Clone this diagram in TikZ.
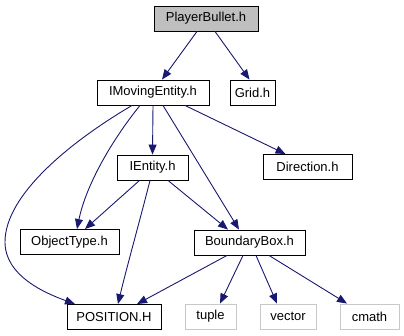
\documentclass[tikz,border=0pt]{standalone}
\usepackage{fontspec}
\setmainfont{Liberation Sans}
\usetikzlibrary{arrows.meta}
\definecolor{edgeblue}{HTML}{191970}
\definecolor{boxgray}{HTML}{BFBFBF}
\definecolor{framegray}{HTML}{C8C8C8}

\begin{document}
\begin{tikzpicture}[x=1pt, y=-1pt, >={Triangle[length=10pt,width=8pt]},
  hfile/.style={draw=black, line width=0.9pt, fill=white, minimum height=25pt, inner sep=0pt, font=\fontsize{13}{15}\selectfont},
  sysfile/.style={hfile, draw=framegray},
  dep/.style={->, draw=edgeblue, fill=none, line width=0.9pt}]
\useasboundingbox (0,0) rectangle (404,336);
\node[hfile, fill=boxgray, minimum width=104pt] (pb) at (206,18.5)  {PlayerBullet.h};
\node[hfile, minimum width=112pt] (im)  at (153,92.5)  {IMovingEntity.h};
\node[hfile, minimum width=45pt]  (gr)  at (252.5,92.5) {Grid.h};
\node[hfile, minimum width=71pt]  (ie)  at (152.5,167.5) {IEntity.h};
\node[hfile, minimum width=89pt]  (dir) at (307.5,167)  {Direction.h};
\node[hfile, minimum width=99pt]  (ot)  at (69.5,242)   {ObjectType.h};
\node[hfile, minimum width=111pt] (bb)  at (249.5,242.5) {BoundaryBox.h};
\node[hfile, minimum width=94pt]  (pos) at (114,317)    {POSITION.H};
\node[sysfile, minimum width=51pt] (tup) at (210.5,316.5) {tuple};
\node[sysfile, minimum width=56pt] (vec) at (288,316.5)   {vector};
\node[sysfile, minimum width=59pt] (cm)  at (369.5,316.5) {cmath};
% PlayerBullet.h
\draw[dep] ([xshift=-9pt]pb.south) -- ([xshift=9pt]im.north);
\draw[dep] ([xshift=9pt]pb.south) -- ([xshift=-3pt]gr.north);
% IMovingEntity.h
\draw[dep] (im.south) -- (ie.north);
\draw[dep] ([xshift=32pt]im.south) -- ([xshift=-22pt]dir.north);
\draw[dep] ([xshift=10pt]im.south) -- ([xshift=-10.5pt]bb.north);
\draw[dep] ([xshift=-13pt]im.south) .. controls (112,140) and (86,185) .. ([xshift=7.5pt]ot.north);
\draw[dep] ([xshift=-21pt]im.south) .. controls (70,142) and (5,195) .. (5,242)
  .. controls (5,276) and (45,293) .. ([xshift=-39pt]pos.north);
% IEntity.h
\draw[dep] ([xshift=-13pt]ie.south) -- ([xshift=15.5pt]ot.north);
\draw[dep] ([xshift=15.5pt]ie.south) -- ([xshift=-21.5pt]bb.north);
\draw[dep] ([xshift=-2.5pt]ie.south) .. controls (140,220) and (126,270) .. ([xshift=4pt]pos.north);
% BoundaryBox.h
\draw[dep] ([xshift=-22.5pt]bb.south) -- ([xshift=23pt]pos.north);
\draw[dep] ([xshift=-6.5pt]bb.south) -- ([xshift=9.5pt]tup.north);
\draw[dep] ([xshift=6.5pt]bb.south) -- ([xshift=-11pt]vec.north);
\draw[dep] ([xshift=19.5pt]bb.south) -- ([xshift=-22.5pt]cm.north);
\end{tikzpicture}
\end{document}
